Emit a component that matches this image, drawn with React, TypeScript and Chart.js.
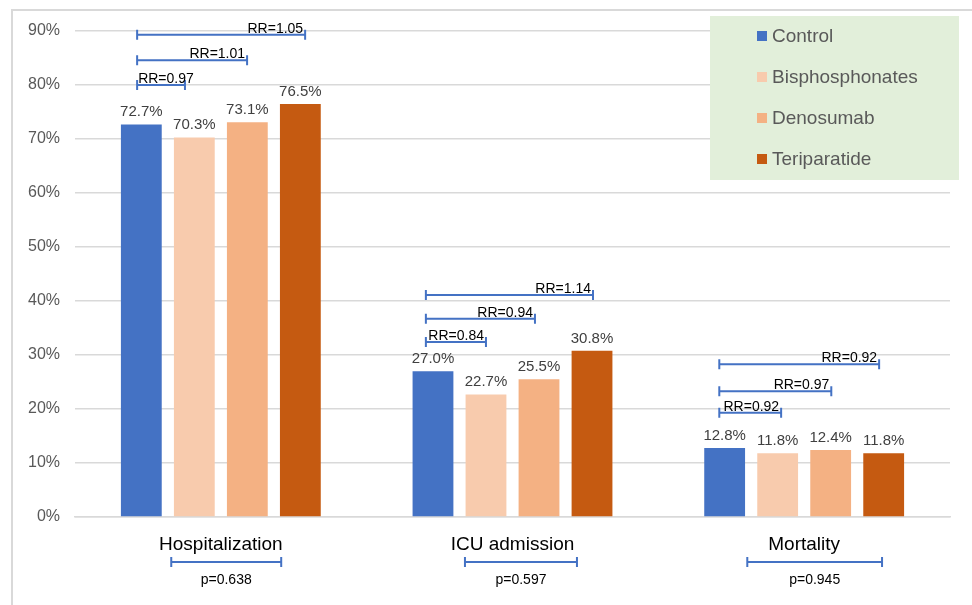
import React, { useEffect, useRef } from 'react';
import { Chart, registerables } from 'chart.js';
Chart.register(...registerables);

const categories = ['Hospitalization', 'ICU admission', 'Mortality'];
const seriesNames = ['Control', 'Bisphosphonates', 'Denosumab', 'Teriparatide'];
const controlValues = [72.7, 27.0, 12.8];
const bisphosphonatesValues = [70.3, 22.7, 11.8];
const denosumabValues = [73.1, 25.5, 12.4];
const teriparatideValues = [76.5, 30.8, 11.8];
const yTickValues = [0, 10, 20, 30, 40, 50, 60, 70, 80, 90];
const rrLabels = [
  ['RR=0.97', 'RR=1.01', 'RR=1.05'],
  ['RR=0.84', 'RR=0.94', 'RR=1.14'],
  ['RR=0.92', 'RR=0.97', 'RR=0.92'],
];
const pLabels = ['p=0.638', 'p=0.597', 'p=0.945'];

// bracket geometry (value levels in %, x offsets in category widths)
const rrLevels = [
  [80.0, 84.6, 89.3],
  [32.4, 36.7, 41.1],
  [19.3, 23.3, 28.3],
];
const rrStart = [-0.287, -0.297, -0.291];
const rrEnds = [
  [-0.123, 0.09, 0.289],
  [-0.091, 0.077, 0.276],
  [-0.079, 0.093, 0.257],
];
const pSpans = [
  [-0.17, 0.207],
  [-0.163, 0.221],
  [-0.195, 0.267],
];

const colors = ['#4472c4', '#f8cbad', '#f4b183', '#c55a11'];
const FONT = "'Liberation Sans', Arial, sans-serif";

const bracketColor = '#4472c4';

function drawBracket(ctx: CanvasRenderingContext2D, x1: number, x2: number, y: number) {
  ctx.save();
  ctx.strokeStyle = bracketColor;
  ctx.lineWidth = 2;
  ctx.beginPath();
  ctx.moveTo(x1, y);
  ctx.lineTo(x2, y);
  ctx.moveTo(x1, y - 5);
  ctx.lineTo(x1, y + 5);
  ctx.moveTo(x2, y - 5);
  ctx.lineTo(x2, y + 5);
  ctx.stroke();
  ctx.restore();
}

const decorPlugin = {
  id: 'decor',
  beforeDraw(chart: any) {
    const ctx = chart.ctx as CanvasRenderingContext2D;
    ctx.save();
    ctx.fillStyle = '#ffffff';
    ctx.fillRect(0, 0, chart.width, chart.height);
    ctx.strokeStyle = '#d9d9d9';
    ctx.lineWidth = 2;
    ctx.strokeRect(12, 10, chart.width + 50, chart.height + 50);
    ctx.restore();
  },
  afterDatasetsDraw(chart: any) {
    const ctx = chart.ctx as CanvasRenderingContext2D;
    const xs = chart.scales.x;
    const ys = chart.scales.y;
    const catW = (xs.right - xs.left) / categories.length;
    // value labels
    ctx.save();
    ctx.fillStyle = '#404040';
    ctx.font = `15px ${FONT}`;
    ctx.textAlign = 'center';
    ctx.textBaseline = 'alphabetic';
    chart.data.datasets.forEach((ds: any, di: number) => {
      const meta = chart.getDatasetMeta(di);
      meta.data.forEach((el: any, i: number) => {
        ctx.fillText(ds.data[i].toFixed(1) + '%', el.x, el.y - 8);
      });
    });
    ctx.restore();

    // RR brackets
    categories.forEach((_, ci) => {
      const cx = xs.getPixelForValue(ci);
      const x1 = cx + rrStart[ci] * catW;
      rrLevels[ci].forEach((lvl, k) => {
        const x2 = cx + rrEnds[ci][k] * catW;
        const y = ys.getPixelForValue(lvl);
        drawBracket(ctx, x1, x2, y);
        ctx.save();
        ctx.font = `14px ${FONT}`;
        ctx.fillStyle = '#000000';
        ctx.textBaseline = 'bottom';
        const label = rrLabels[ci][k];
        const w = ctx.measureText(label).width;
        let tx = x2 - 2 - w;
        if (tx < x1 + 1) tx = x1 + 1;
        ctx.textAlign = 'left';
        ctx.fillText(label, tx, y + 1);
        ctx.restore();
      });
      // p brackets
      const px1 = cx + pSpans[ci][0] * catW;
      const px2 = cx + pSpans[ci][1] * catW;
      const py = chart.chartArea.bottom + 45;
      drawBracket(ctx, px1, px2, py);
      ctx.save();
      ctx.font = `14px ${FONT}`;
      ctx.fillStyle = '#000000';
      ctx.textAlign = 'center';
      ctx.textBaseline = 'middle';
      ctx.fillText(pLabels[ci], (px1 + px2) / 2, py + 18);
      ctx.restore();
    });
  },
  afterDraw(chart: any) {
    const ctx = chart.ctx as CanvasRenderingContext2D;
    ctx.save();
    ctx.fillStyle = '#e2efda';
    ctx.fillRect(710, 16, 249, 164);
    ctx.font = `19px ${FONT}`;
    ctx.textBaseline = 'middle';
    ctx.textAlign = 'left';
    chart.data.datasets.forEach((ds: any, i: number) => {
      const y = 36 + i * 41;
      ctx.fillStyle = ds.backgroundColor;
      ctx.fillRect(757, y - 5, 10, 10);
      ctx.fillStyle = '#595959';
      ctx.fillText(ds.label, 772, y + 1);
    });
    ctx.restore();
  },
};

export default function App() {
  const ref = useRef<HTMLCanvasElement | null>(null);
  useEffect(() => {
    if (!ref.current) return;
    const seriesValues = [controlValues, bisphosphonatesValues, denosumabValues, teriparatideValues];
    const chart = new Chart(ref.current, {
      type: 'bar',
      data: {
        labels: categories,
        datasets: seriesNames.map((name, i) => ({
          label: name,
          data: seriesValues[i],
          backgroundColor: colors[i],
          borderWidth: 0,
          categoryPercentage: 0.727,
          barPercentage: 0.77,
        })),
      },
      options: {
        responsive: false,
        animation: false,
        layout: { padding: { top: 31, right: 22, left: 0, bottom: 0 } },
        plugins: {
          legend: { display: false },
          tooltip: { enabled: false },
        },
        scales: {
          x: {
            grid: { display: false },
            border: { display: true, color: '#d9d9d9', width: 1.5 },
            ticks: { color: '#000000', font: { size: 19, family: FONT }, padding: 8 },
            afterFit: (s: any) => { s.height = 88; },
          },
          y: {
            min: 0,
            max: 90,
            afterBuildTicks: (s: any) => { s.ticks = yTickValues.map((v) => ({ value: v })); },
            grid: { color: '#d9d9d9', lineWidth: 1.5, drawTicks: false },
            border: { display: false },
            ticks: {
              color: '#595959',
              font: { size: 16, family: FONT },
              padding: 15,
              callback: (v: any) => v + '%',
            },
            afterFit: (s: any) => { s.width = 75; },
          },
        },
      },
      plugins: [decorPlugin],
    });
    return () => chart.destroy();
  }, []);
  return (
    <div style={{ position: 'absolute', left: 0, top: 0, width: 972, height: 605 }}>
      <canvas ref={ref} width={972} height={605} style={{ display: 'block' }} />
    </div>
  );
}
